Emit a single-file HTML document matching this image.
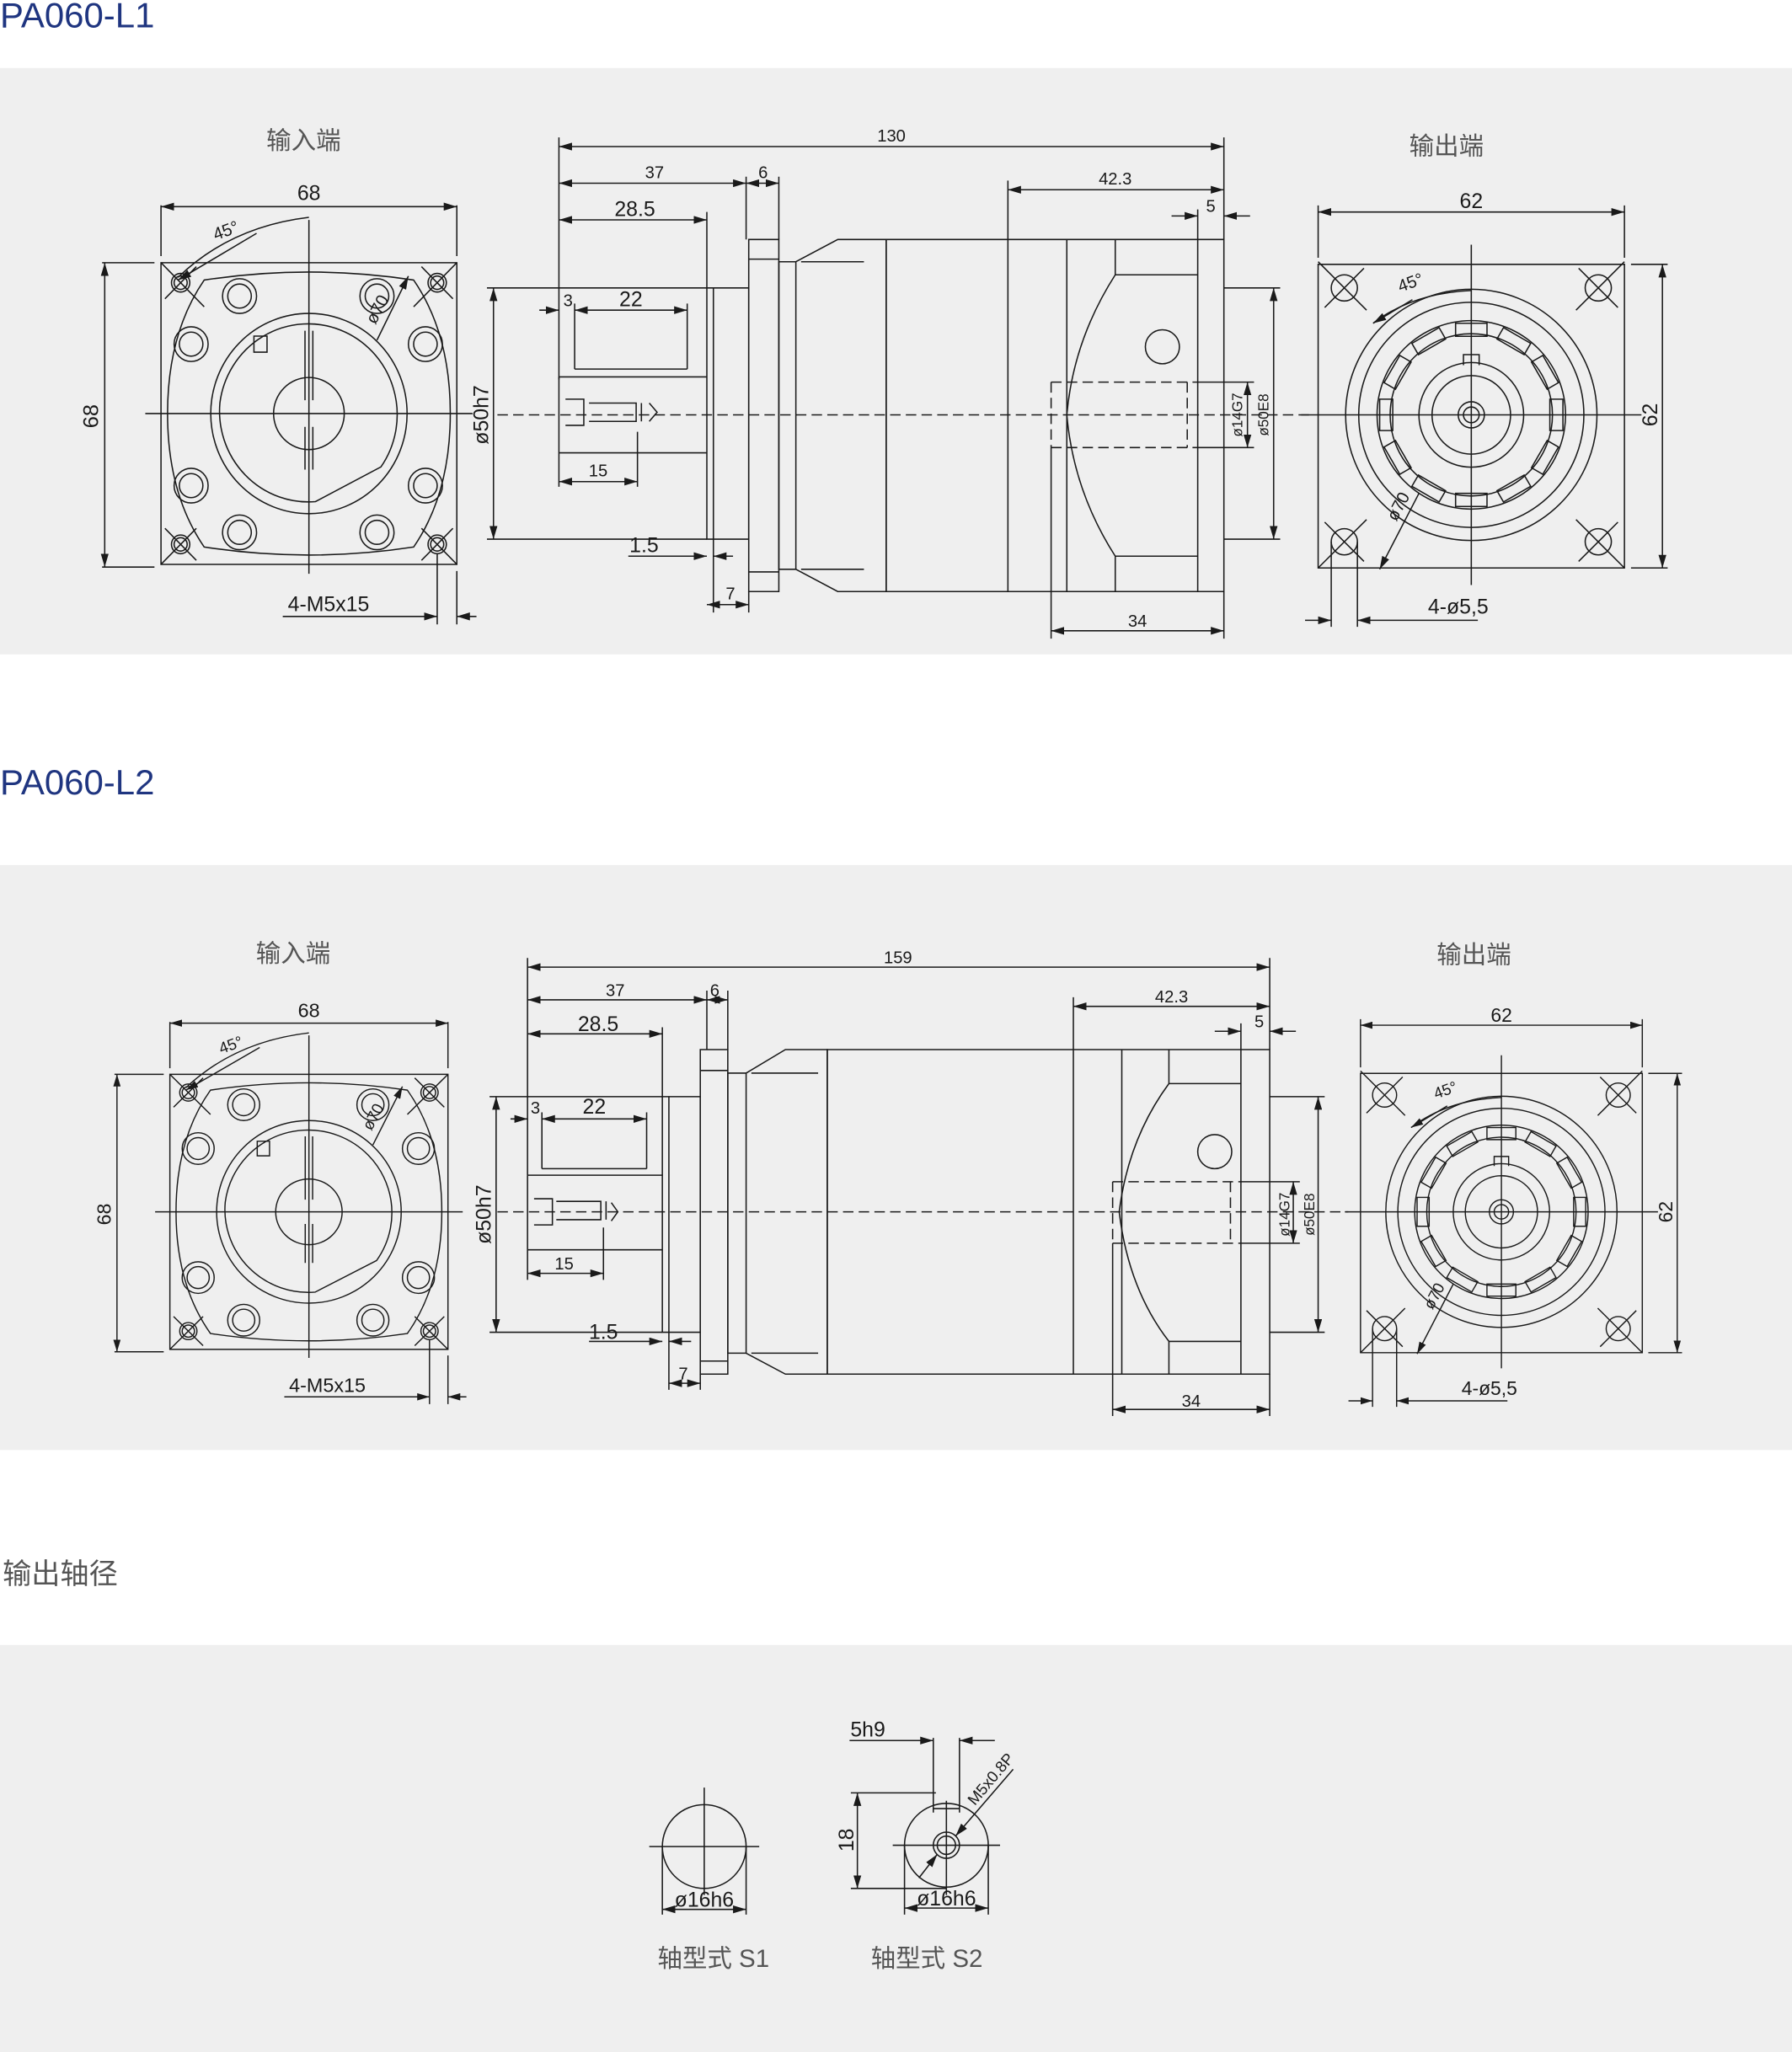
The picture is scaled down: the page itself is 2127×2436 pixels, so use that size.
<!DOCTYPE html>
<html><head><meta charset="utf-8"><style>
html,body{margin:0;padding:0;background:#fff;}
svg{display:block;}
.l{stroke:#1a1a1a;stroke-width:1;fill:none;}
svg text{font-size:13px;}
.t{font-family:"Liberation Sans",sans-serif;fill:#1a1a1a;}
.h{font-family:"Liberation Sans","Noto Sans CJK SC",sans-serif;fill:#555;}
svg text.h{font-size:18px;}
.ti{font-family:"Liberation Sans",sans-serif;fill:#1f3580;}
svg text.ti{font-size:27px;}
.d{stroke-dasharray:8 4;}
</style></head><body>
<svg width="2127" height="2436" viewBox="0 0 1369 1568" preserveAspectRatio="none" xmlns="http://www.w3.org/2000/svg">
<defs>
<marker id="a" viewBox="0 0 10 6" refX="10" refY="3" markerWidth="10" markerHeight="6" orient="auto-start-reverse" markerUnits="userSpaceOnUse"><path d="M0,0L10,3L0,6z" fill="#1a1a1a"/></marker>
<g id="inEnd">
 <path class="l" d="M-113,-113H113V113H-113Z"/>
 <path class="l" d="M-113,-156V-118M113,-156V-118M-158,-113H-118M-158,115H-118"/>
 <line class="l" x1="-113" y1="-155" x2="113" y2="-155" marker-start="url(#a)" marker-end="url(#a)"/>
 <text class="t" x="0" y="-160" text-anchor="middle" style="font-size:16px">68</text>
 <line class="l" x1="-156" y1="-113" x2="-156" y2="115" marker-start="url(#a)" marker-end="url(#a)"/>
 <text class="t" transform="translate(-161,2) rotate(-90)" text-anchor="middle" style="font-size:16px">68</text>
 <path class="l" d="M-80,-100 Q0,-112 80,-100 Q108,-60 108,0 Q108,60 80,100 Q0,112 -80,100 Q-108,60 -108,0 Q-108,-60 -80,-100Z"/>
 <circle class="l" cx="0" cy="0" r="75"/>
 <path class="l" d="M-68,-8 A68,68 0 1 1 55,40 L5,66 A68,68 0 0 1 -68,-8Z"/>
 <circle class="l" cx="0" cy="0" r="27"/>
 <path class="l" d="M-3,-62V-10M3,-62V-10M-3,10V42M3,42V10M-42,-58h10v12h-10z"/>
 <path class="l" d="M-125,0H125M0,-145V120"/>
 <g class="l">
  <circle cx="-53" cy="-88" r="13"/><circle cx="-53" cy="-88" r="9"/>
  <circle cx="-90" cy="-52" r="13"/><circle cx="-90" cy="-52" r="9"/>
  <circle cx="-90" cy="54" r="13"/><circle cx="-90" cy="54" r="9"/>
  <circle cx="-53" cy="89" r="13"/><circle cx="-53" cy="89" r="9"/>
  <circle cx="52" cy="89" r="13"/><circle cx="52" cy="89" r="9"/>
  <circle cx="89" cy="54" r="13"/><circle cx="89" cy="54" r="9"/>
  <circle cx="89" cy="-52" r="13"/><circle cx="89" cy="-52" r="9"/>
  <circle cx="52" cy="-88" r="13"/><circle cx="52" cy="-88" r="9"/>
  <circle cx="-98" cy="-98" r="7"/><circle cx="-98" cy="-98" r="5"/>
  <circle cx="98" cy="-98" r="7"/><circle cx="98" cy="-98" r="5"/>
  <circle cx="-98" cy="98" r="7"/><circle cx="-98" cy="98" r="5"/>
  <circle cx="98" cy="98" r="7"/><circle cx="98" cy="98" r="5"/>
  <path d="M-113,-113L-80,-80M-110,-86L-86,-110M113,-113L80,-80M110,-86L86,-110M-113,113L-86,86M-110,86L-86,110M113,113L86,86M110,86L86,110"/>
 </g>
 <path class="l" d="M-100,-102 Q-60,-140 0,-147"/>
 <line class="l" x1="-40" y1="-135" x2="-100" y2="-100" marker-end="url(#a)"/>
 <text class="t" transform="translate(-62,-133) rotate(-20)" text-anchor="middle">45°</text>
 <line class="l" x1="52" y1="-55" x2="76" y2="-103" marker-end="url(#a)"/>
 <text class="t" transform="translate(56,-76) rotate(-62)" text-anchor="middle">ø70</text>
 <path class="l" d="M98,105V158M113,118V158"/>
 <line class="l" x1="-20" y1="152" x2="98" y2="152" marker-end="url(#a)"/>
 <line class="l" x1="128" y1="152" x2="113" y2="152" marker-end="url(#a)"/>
 <text class="t" x="15" y="148" text-anchor="middle" style="font-size:16px">4-M5x15</text>
</g>
<g id="outEnd">
 <path class="l" d="M-117,-115H117V117H-117Z"/>
 <path class="l" d="M-117,-160V-120M117,-160V-120M122,-115H150M122,117H150"/>
 <line class="l" x1="-117" y1="-155" x2="117" y2="-155" marker-start="url(#a)" marker-end="url(#a)"/>
 <text class="t" x="0" y="-158" text-anchor="middle" style="font-size:16px">62</text>
 <line class="l" x1="146" y1="-115" x2="146" y2="117" marker-start="url(#a)" marker-end="url(#a)"/>
 <text class="t" transform="translate(142,0) rotate(-90)" text-anchor="middle" style="font-size:16px">62</text>
 <circle class="l" r="96"/><circle class="l" r="86"/><circle class="l" r="72"/><circle class="l" r="62"/><circle class="l" r="40"/><circle class="l" r="30"/><circle class="l" r="10"/><circle class="l" r="6"/>
 <path class="l" d="M-6,-38v-8h12v8"/>
 <g class="l">
  <circle cx="-97" cy="-97" r="10"/><circle cx="97" cy="-97" r="10"/><circle cx="-97" cy="97" r="10"/><circle cx="97" cy="97" r="10"/>
  <path d="M-117,-117L-80,-80M-112,-82L-82,-112M117,-117L80,-80M112,-82L82,-112M-117,117L-80,80M-112,82L-82,112M117,117L80,80M112,82L82,112"/>
 </g>
 <g class="l">
  <path d="M-12,-70h24v10h-24z" transform="rotate(0)"/><path d="M-12,-70h24v10h-24z" transform="rotate(30)"/><path d="M-12,-70h24v10h-24z" transform="rotate(60)"/><path d="M-12,-70h24v10h-24z" transform="rotate(90)"/><path d="M-12,-70h24v10h-24z" transform="rotate(120)"/><path d="M-12,-70h24v10h-24z" transform="rotate(150)"/><path d="M-12,-70h24v10h-24z" transform="rotate(180)"/><path d="M-12,-70h24v10h-24z" transform="rotate(210)"/><path d="M-12,-70h24v10h-24z" transform="rotate(240)"/><path d="M-12,-70h24v10h-24z" transform="rotate(270)"/><path d="M-12,-70h24v10h-24z" transform="rotate(300)"/><path d="M-12,-70h24v10h-24z" transform="rotate(330)"/>
 </g>
 <path class="l" d="M-130,0H130M0,-130V130"/>
 <path class="l" d="M-75,-70 Q-45,-93 0,-95"/>
 <line class="l" x1="-45" y1="-88" x2="-75" y2="-70" marker-end="url(#a)"/>
 <text class="t" transform="translate(-45,-97) rotate(-20)" text-anchor="middle">45°</text>
 <line class="l" x1="-40" y1="60" x2="-70" y2="118" marker-end="url(#a)"/>
 <text class="t" transform="translate(-52,72) rotate(-62)" text-anchor="middle">ø70</text>
 <path class="l" d="M-107,97V162M-87,97V162"/>
 <line class="l" x1="-127" y1="157" x2="-107" y2="157" marker-end="url(#a)"/>
 <line class="l" x1="5" y1="157" x2="-87" y2="157" marker-end="url(#a)"/>
 <text class="t" x="-10" y="152" text-anchor="middle" style="font-size:16px">4-ø5,5</text>
</g>
</defs>

<rect width="1369" height="1568" fill="#fff"/>
<text class="ti" x="0" y="21">PA060-L1</text>
<rect x="0" y="52" width="1369" height="448" fill="#efefef"/>
<text class="ti" x="0" y="607">PA060-L2</text>
<rect x="0" y="661" width="1369" height="447" fill="#efefef"/>
<text class="h" x="2" y="1210" style="font-size:22px">输出轴径</text>
<rect x="0" y="1257" width="1369" height="311" fill="#efefef"/>

<!-- Panel 1 -->
<text class="h" x="232" y="114" text-anchor="middle" style="font-size:19px">输入端</text>
<text class="h" x="1105" y="118" text-anchor="middle" style="font-size:19px">输出端</text>
<use href="#inEnd" transform="translate(236,316) scale(1.0,1.02)"/>
<use href="#outEnd" transform="translate(1124,317)"/>

<g>
 <path class="l" d="M427,105V290M935,105V183M570,135V183M595,135V183M540,162V220M770,138V183M915,160V183"/>
 <line class="l" x1="427" y1="112" x2="935" y2="112" marker-start="url(#a)" marker-end="url(#a)"/>
 <text class="t" x="681" y="108" text-anchor="middle">130</text>
 <line class="l" x1="427" y1="140" x2="570" y2="140" marker-start="url(#a)" marker-end="url(#a)"/>
 <text class="t" x="500" y="136" text-anchor="middle">37</text>
 <line class="l" x1="570" y1="140" x2="595" y2="140" marker-start="url(#a)" marker-end="url(#a)"/>
 <text class="t" x="583" y="136" text-anchor="middle">6</text>
 <line class="l" x1="427" y1="168" x2="540" y2="168" marker-start="url(#a)" marker-end="url(#a)"/>
 <text class="t" x="485" y="165" text-anchor="middle" style="font-size:16px">28.5</text>
 <line class="l" x1="770" y1="145" x2="935" y2="145" marker-start="url(#a)" marker-end="url(#a)"/>
 <text class="t" x="852" y="141" text-anchor="middle">42.3</text>
 <line class="l" x1="895" y1="165" x2="915" y2="165" marker-end="url(#a)"/>
 <line class="l" x1="955" y1="165" x2="935" y2="165" marker-end="url(#a)"/>
 <text class="t" x="925" y="162" text-anchor="middle">5</text>
 <path class="l" d="M439,232V282M525,232V282M439,282H525M427,288H540M427,346H540M427,346V288"/>
 <line class="l" x1="412" y1="237" x2="427" y2="237" marker-end="url(#a)"/>
 <line class="l" x1="439" y1="237" x2="525" y2="237" marker-start="url(#a)" marker-end="url(#a)"/>
 <text class="t" x="434" y="234" text-anchor="middle">3</text>
 <text class="t" x="482" y="234" text-anchor="middle" style="font-size:16px">22</text>
 <path class="l" d="M432,305h14v20h-14M450,308h36v14h-36M490,308v14M496,308l6,7l-6,7"/>
 <path class="l" d="M427,346V372M487,330V372"/>
 <line class="l" x1="427" y1="368" x2="487" y2="368" marker-start="url(#a)" marker-end="url(#a)"/>
 <text class="t" x="457" y="364" text-anchor="middle">15</text>
 <path class="l" d="M540,220H572V412H540Z M545,220V412"/>
 <path class="l" d="M572,183H595V452H572Z M572,198H595M572,437H595"/>
 <path class="l" d="M595,200H608V435H595Z"/>
 <path class="l" d="M608,200L640,183H677V452H640L608,435"/>
 <path class="l" d="M612,200H660M612,435H660"/>
 <path class="l" d="M677,183H935V452H677Z M770,183V452M815,183V452"/>
 <path class="l" d="M852,183V210 Q820,260 815,317 Q820,375 852,425V452M852,210H915V425H852M915,183V452"/>
 <circle class="l" cx="888" cy="265" r="13"/>
 <path class="l d" d="M803,292H915M803,342H915M803,292V342M907,292V342"/>
 <path class="l d" d="M380,317H1000"/>
 <path class="l" d="M372,220H540M372,412H540"/>
 <line class="l" x1="377" y1="220" x2="377" y2="412" marker-start="url(#a)" marker-end="url(#a)"/>
 <text class="t" transform="translate(373,317) rotate(-90)" text-anchor="middle" style="font-size:16px">ø50h7</text>
 <path class="l" d="M915,292H958M915,342H958M935,220H978M935,412H978"/>
 <line class="l" x1="953" y1="292" x2="953" y2="342" marker-start="url(#a)" marker-end="url(#a)"/>
 <text class="t" transform="translate(949,317) rotate(-90)" text-anchor="middle" style="font-size:11px">ø14G7</text>
 <line class="l" x1="973" y1="220" x2="973" y2="412" marker-start="url(#a)" marker-end="url(#a)"/>
 <text class="t" transform="translate(969,317) rotate(-90)" text-anchor="middle" style="font-size:11px">ø50E8</text>
 <path class="l" d="M803,342V488M935,452V488M545,412V468M572,452V468"/>
 <line class="l" x1="803" y1="482" x2="935" y2="482" marker-start="url(#a)" marker-end="url(#a)"/>
 <text class="t" x="869" y="479" text-anchor="middle">34</text>
 <line class="l" x1="480" y1="425" x2="540" y2="425" marker-end="url(#a)"/>
 <line class="l" x1="560" y1="425" x2="545" y2="425" marker-end="url(#a)"/>
 <text class="t" x="492" y="422" text-anchor="middle" style="font-size:16px">1.5</text>
 <line class="l" x1="540" y1="462" x2="572" y2="462" marker-start="url(#a)" marker-end="url(#a)"/>
 <text class="t" x="558" y="458" text-anchor="middle">7</text>
</g>

<!-- Panel 2 -->
<text class="h" x="224" y="735" text-anchor="middle" style="font-size:19px">输入端</text>
<text class="h" x="1126" y="736" text-anchor="middle" style="font-size:19px">输出端</text>
<use href="#inEnd" transform="translate(236,926) scale(0.94,0.93)"/>
<use href="#outEnd" transform="translate(1147,926) scale(0.92,0.92)"/>

<g>
 <path class="l" d="M403,732V898M970,732V802M540,757V802M556,757V802M506,785V838M820,762V802M948,782V802"/>
 <line class="l" x1="403" y1="739" x2="970" y2="739" marker-start="url(#a)" marker-end="url(#a)"/>
 <text class="t" x="686" y="736" text-anchor="middle">159</text>
 <line class="l" x1="403" y1="764" x2="540" y2="764" marker-start="url(#a)" marker-end="url(#a)"/>
 <text class="t" x="470" y="761" text-anchor="middle">37</text>
 <line class="l" x1="540" y1="764" x2="556" y2="764" marker-start="url(#a)" marker-end="url(#a)"/>
 <text class="t" x="546" y="761" text-anchor="middle">6</text>
 <line class="l" x1="403" y1="790" x2="506" y2="790" marker-start="url(#a)" marker-end="url(#a)"/>
 <text class="t" x="457" y="788" text-anchor="middle" style="font-size:16px">28.5</text>
 <line class="l" x1="820" y1="769" x2="970" y2="769" marker-start="url(#a)" marker-end="url(#a)"/>
 <text class="t" x="895" y="766" text-anchor="middle">42.3</text>
 <line class="l" x1="928" y1="788" x2="948" y2="788" marker-end="url(#a)"/>
 <line class="l" x1="990" y1="788" x2="970" y2="788" marker-end="url(#a)"/>
 <text class="t" x="962" y="785" text-anchor="middle">5</text>
 <path class="l" d="M414,850V893M494,850V893M414,893H494M403,898H506M403,955H506M403,955V898"/>
 <line class="l" x1="390" y1="855" x2="403" y2="855" marker-end="url(#a)"/>
 <line class="l" x1="414" y1="855" x2="494" y2="855" marker-start="url(#a)" marker-end="url(#a)"/>
 <text class="t" x="409" y="851" text-anchor="middle">3</text>
 <text class="t" x="454" y="851" text-anchor="middle" style="font-size:16px">22</text>
 <path class="l" d="M408,916h14v20h-14M425,918h34v14h-34M463,918v14M467,919l5,7l-5,7"/>
 <path class="l" d="M403,955V978M461,938V978"/>
 <line class="l" x1="403" y1="973" x2="461" y2="973" marker-start="url(#a)" marker-end="url(#a)"/>
 <text class="t" x="431" y="970" text-anchor="middle">15</text>
 <path class="l" d="M506,838H535V1018H506Z M511,838V1018"/>
 <path class="l" d="M535,802H556V1050H535Z M535,818H556M535,1040H556"/>
 <path class="l" d="M556,820H570V1034H556Z"/>
 <path class="l" d="M570,820L600,802H632V1050H600L570,1034"/>
 <path class="l" d="M574,820H625M574,1034H625"/>
 <path class="l" d="M632,802H970V1050H632Z M820,802V1050M857,802V1050"/>
 <path class="l" d="M893,802V828 Q862,870 855,926 Q862,985 893,1025V1050M893,828H948V1025H893M948,802V1050"/>
 <circle class="l" cx="928" cy="880" r="13"/>
 <path class="l d" d="M850,903H948M850,950H948M850,903V950M940,903V950"/>
 <path class="l d" d="M380,926H1030"/>
 <path class="l" d="M374,838H506M374,1018H506"/>
 <line class="l" x1="379" y1="838" x2="379" y2="1018" marker-start="url(#a)" marker-end="url(#a)"/>
 <text class="t" transform="translate(375,928) rotate(-90)" text-anchor="middle" style="font-size:16px">ø50h7</text>
 <path class="l" d="M948,903H993M948,950H993M970,838H1012M970,1018H1012"/>
 <line class="l" x1="988" y1="903" x2="988" y2="950" marker-start="url(#a)" marker-end="url(#a)"/>
 <text class="t" transform="translate(985,928) rotate(-90)" text-anchor="middle" style="font-size:11px">ø14G7</text>
 <line class="l" x1="1007" y1="838" x2="1007" y2="1018" marker-start="url(#a)" marker-end="url(#a)"/>
 <text class="t" transform="translate(1004,928) rotate(-90)" text-anchor="middle" style="font-size:11px">ø50E8</text>
 <path class="l" d="M850,950V1082M970,1050V1082M511,1018V1062M535,1050V1062"/>
 <line class="l" x1="850" y1="1077" x2="970" y2="1077" marker-start="url(#a)" marker-end="url(#a)"/>
 <text class="t" x="910" y="1075" text-anchor="middle">34</text>
 <line class="l" x1="450" y1="1025" x2="506" y2="1025" marker-end="url(#a)"/>
 <line class="l" x1="528" y1="1025" x2="511" y2="1025" marker-end="url(#a)"/>
 <text class="t" x="461" y="1023" text-anchor="middle" style="font-size:16px">1.5</text>
 <line class="l" x1="511" y1="1057" x2="535" y2="1057" marker-start="url(#a)" marker-end="url(#a)"/>
 <text class="t" x="522" y="1054" text-anchor="middle">7</text>
</g>

<!-- Panel 3 -->
<g>
 <circle class="l" cx="538" cy="1411" r="32"/>
 <path class="l" d="M496,1411H580M538,1366V1448M506,1411V1463M570,1411V1463"/>
 <line class="l" x1="506" y1="1459" x2="570" y2="1459" marker-start="url(#a)" marker-end="url(#a)"/>
 <text class="t" x="538" y="1457" text-anchor="middle" style="font-size:16px">ø16h6</text>
 <text class="h" x="545" y="1503" text-anchor="middle" style="font-size:19px">轴型式 S1</text>

 <circle class="l" cx="723" cy="1410" r="32"/>
 <circle class="l" cx="723" cy="1410" r="10"/><circle class="l" cx="723" cy="1410" r="7"/>
 <path class="l" d="M682,1410H764M723,1376V1448M691,1410V1463M755,1410V1463"/>
 <path class="l" d="M713,1385V1328M733,1385V1328M713,1382H733"/>
 <path class="l" d="M649,1330H700M748,1330H760"/>
 <line class="l" x1="695" y1="1330" x2="713" y2="1330" marker-end="url(#a)"/>
 <line class="l" x1="752" y1="1330" x2="733" y2="1330" marker-end="url(#a)"/>
 <text class="t" x="663" y="1327" text-anchor="middle" style="font-size:16px">5h9</text>
 <path class="l" d="M650,1370H715M650,1443H723"/>
 <line class="l" x1="655" y1="1370" x2="655" y2="1443" marker-start="url(#a)" marker-end="url(#a)"/>
 <text class="t" transform="translate(652,1406) rotate(-90)" text-anchor="middle" style="font-size:16px">18</text>
 <line class="l" x1="774" y1="1352" x2="730" y2="1403" marker-end="url(#a)"/>
 <line class="l" x1="702" y1="1435" x2="716" y2="1417" marker-end="url(#a)"/>
 <text class="t" transform="translate(760,1362) rotate(-50)" text-anchor="middle" style="font-size:12px">M5x0.8P</text>
 <line class="l" x1="691" y1="1458" x2="755" y2="1458" marker-start="url(#a)" marker-end="url(#a)"/>
 <text class="t" x="723" y="1456" text-anchor="middle" style="font-size:16px">ø16h6</text>
 <text class="h" x="708" y="1503" text-anchor="middle" style="font-size:19px">轴型式 S2</text>
</g>
</svg>
</body></html>
